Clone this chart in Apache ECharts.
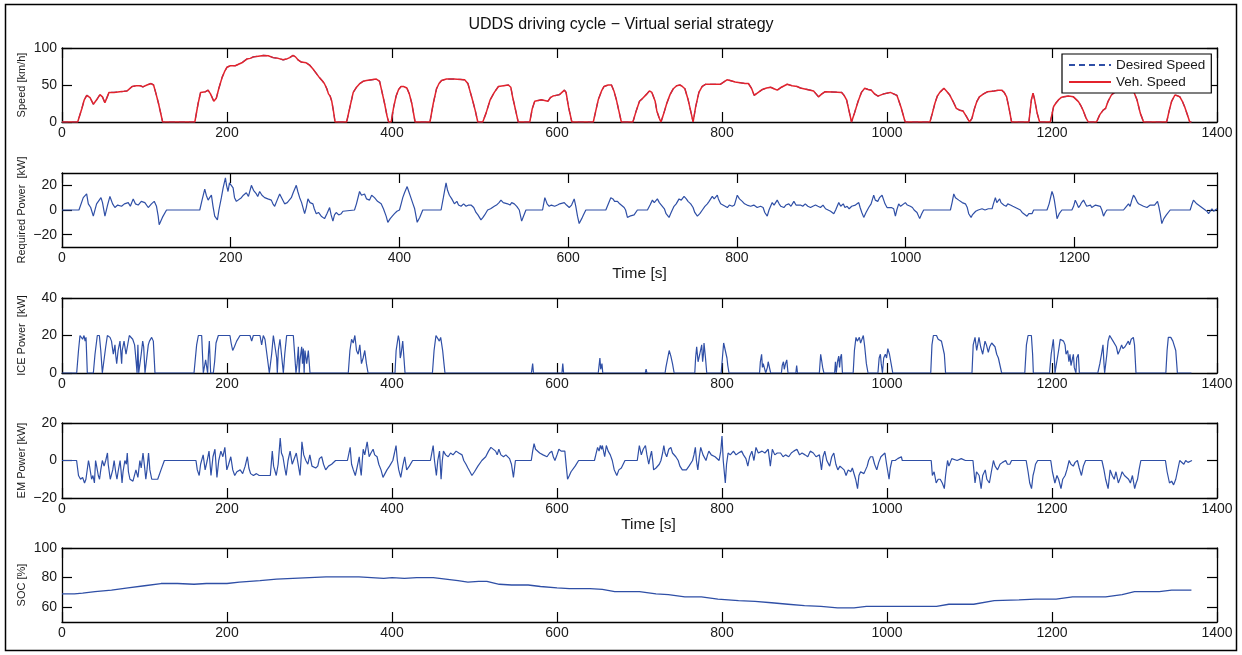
<!DOCTYPE html>
<html>
<head>
<meta charset="utf-8">
<title>UDDS driving cycle – Virtual serial strategy</title>
<script src="https://cdn.jsdelivr.net/npm/echarts@6/dist/echarts.min.js"></script>
<style>
  html, body { margin: 0; padding: 0; background: #fff; }
  #chart { width: 1242px; height: 655px; }
</style>
</head>
<body>
<div id="chart"></div>
<script>
// ---- tick values ----
const timeTicks = [0, 200, 400, 600, 800, 1000, 1200, 1400];
const timeTicksShort = [0, 200, 400, 600, 800, 1000, 1200];
const speedTicks = [0, 50, 100];
const reqPowerTicks = [-20, 0, 20];
const icePowerTicks = [0, 20, 40];
const emPowerTicks = [-20, 0, 20];
const socTicks = [60, 80, 100];

// ---- vehicle speed [km/h] over time [s] ----
const speedData = [
  [0,0],[19,0],[24,18],[27,30],[30,36],[34,33],[38,24],[42,30],[46,37],[49,34],[52,26],[57,40],[63,40],[70,41],[75,41.5],[79,42],[85,48],[90,49],[95,49],[98,47.5],[103,50],[105,48.5],[108,52],[111,50],[114,38],[117,25],[122,0],
  [161,0],[165,25],[168,40],[170,42],[174,41],[177,43],[180,38],[184,28],[187,32],[190,45],[194,60],[197,68],[200,74],[204,76],[210,76],[214,78],[218,80],[224,85],[228,86],[232,88],[238,89],[244,90],[250,89.5],[256,87],[262,86],[268,84],[272,85],[276,87],[280,90],[283,88],[286,84],[290,81],[296,80],[300,77],[304,72],[308,66],[312,60],[316,55],[318,52],[321,45],[323,38],[325,35],[327,28],[329,15],[331,0],
  [345,0],[349,20],[353,40],[357,47],[361,52],[365,55],[369,56],[375,57],[381,58],[385,55],[388,40],[391,25],[394,8],[396,0],[399,0],[402,20],[405,35],[408,44],[411,48],[414,48],[418,46],[421,38],[424,25],[428,0],
  [446,0],[450,25],[454,45],[457,52],[460,56],[466,58],[475,58],[483,57.5],[488,57],[492,52],[495,40],[498,28],[501,15],[504,0],
  [510,0],[514,12],[519,30],[524,40],[529,48],[535,49],[541,50],[544,47],[546,35],[548,25],[551,10],[553,0],
  [567,0],[570,18],[573,28],[577,29],[581,30],[585,29],[589,28],[592,33],[595,35],[599,36],[603,37],[606,40],[609,43],[611,40],[614,20],[618,0],
  [644,0],[647,15],[650,30],[654,42],[657,48],[662,50],[666,50],[669,42],[672,30],[675,15],[678,0],
  [692,0],[696,15],[700,28],[703,31],[705,33],[709,38],[712,42],[715,40],[717,38],[719,28],[721,15],[724,5],[726,0],[729,10],[733,25],[737,37],[741,45],[745,49],[749,50],[752,48],[755,45],[759,30],[762,15],[765,0],
  [768,20],[772,40],[776,48],[780,51],[790,51],[798,51],[802,54],[806,57],[810,56],[816,54],[822,53],[828,52],[832,52],[836,45],[839,36],[844,40],[849,44],[854,46],[859,47],[863,45],[867,43],[872,47],[879,51],[885,49],[891,48],[895,46],[903,44],[911,42],[914,38],[917,34],[921,38],[925,41],[935,40.5],[945,40],[948,36],[951,30],[954,15],[957,0],
  [960,10],[965,28],[969,40],[973,45.5],[977,44],[981,43],[985,38],[989,35],[996,38],[1004,40],[1008,38],[1012,36],[1017,20],[1022,0],
  [1052,0],[1055,12],[1058,25],[1061,35],[1064,40],[1069,45.5],[1072,42],[1076,36.5],[1080,28],[1084,18.5],[1088,16],[1092,15],[1096,8],[1100,0],
  [1103,5],[1106,18],[1109,28],[1112,34],[1117,38],[1122,41],[1130,42],[1135,43],[1139,43],[1142,40],[1145,34],[1148,18],[1151,0],
  [1172,0],[1175,30],[1177,39],[1179,30],[1182,12],[1185,0],
  [1198,0],[1202,21],[1205,26],[1208,30],[1211,33],[1214,34],[1220,35],[1226,34],[1232,27.5],[1235,22],[1238,15],[1241,6],[1244,0],
  [1254,0],[1258,10],[1262,16],[1265,18.5],[1268,28],[1272,36.5],[1278,42],[1285,45],[1292,46],[1298,44],[1303,30],[1307,12],[1311,0],
  [1339,0],[1342,15],[1345,28],[1349,36.5],[1352,35.5],[1355,34],[1358,28],[1361,20],[1364,10],[1367,0],[1369,0]
];

// ---- required traction power [kW] ----
const reqPowerData = [
  [0,0],[20.1,0],[25.2,10],[29.2,13],[31.2,5],[34,2],[37.1,-5],[41,5],[46.2,10],[48,6],[50.9,-5],[54,4],[56.8,11],[60,5],[62.7,2],[66,4],[70.6,3],[74,5],[78.5,6],[81,3],[84.4,9],[87,5],[90.3,4],[94,7],[98.2,6],[102.2,2],[106,5],[109.3,7],[112,3],[114,-5],[115.2,-12],[119,-6],[123.9,0],
  [163.3,0],[166,8],[169.2,17],[171,12],[173.2,8],[175,10],[177.1,12],[179,3],[181,-5],[184.2,-8],[186,0],[188.9,10],[191,18],[193.7,26],[195,20],[196.8,15],[198.5,22],[200,22],[202.8,18],[204.5,10],[206.7,7],[209,8],[212.6,10],[215,12],[218.5,14],[221,11],[224.5,20],[227,16],[230.4,13],[232,11],[234.3,15],[237,12],[240.2,10],[244,9],[248.1,8],[250,5],[252.1,3],[255,8],[258,13],[261,9],[263.9,5],[267,6],[271.8,10],[274,14],[277.7,20],[279.5,15],[281.7,10],[284,6],[287.6,-3],[289.5,2],[291.5,9],[294,6],[297.4,5],[299,1],[301.4,-3],[304,-2],[307.3,-5],[309,-4],[311.2,-7],[314,-3],[317.2,2],[319,-4],[321.1,-9],[323,-4],[325,-2],[328,-4],[331,-3],[333,-1],[334.9,0],
  [346.7,0],[349,5],[352.7,15],[355,12],[358.6,13],[361,9],[364.5,8],[367,12],[370.4,10],[374,7],[378.3,5],[381,1],[384.2,-5],[386.2,-10],[389,-7],[391.5,-5],[394.1,-3],[397,-1],[400,0],[402,5],[403.9,10],[406,14],[409.1,19],[411,15],[413.5,10],[416,5],[418,1],[421,-10],[424,-6],[427.6,0],
  [449.3,0],[452,10],[455.2,22],[457,16],[459.2,12],[462,9],[465.1,5],[468,7],[470,4],[473,3],[476,5],[479,3],[482,4],[484.8,4],[488,2],[490.7,-2],[493,-4],[496.6,-8],[499,-6],[501,-4],[504.5,0],[508,1],[512.4,3],[515,4],[518,6],[520.3,8],[523,6],[525,7],[528.2,5],[531,4],[533,6],[536.1,5],[539,3],[542,0],[544.8,-9],[547,-5],[549.9,0],
  [569.6,0],[572.3,10],[575,5],[577.5,3],[580,4],[584,3],[587.3,4],[590,5],[592,4],[595.3,6],[598,4],[601.2,2],[604,4],[607.1,9],[609,3],[611,-5],[613,-11],[616,-7],[618,-4],[620.9,0],
  [644.6,0],[647,4],[650.5,10],[653,9],[655,7],[658.4,7],[661,5],[663,6],[666.3,2],[668,0],[670.2,-6],[673,-5],[675,-6],[678.1,-4],[682,0],
  [693.9,0],[697,4],[699.8,8],[702,6],[705.7,9],[708,6],[711.6,3],[714,1],[716,-3],[719.5,-6],[722,-2],[725.4,3],[728,5],[731.4,9],[734,8],[737.3,11],[740,9],[742,7],[745.2,5],[748,2],[750,-2],[753.1,-5],[756,-3],[759,0],[762,3],[764.9,5],[767,7],[770.8,11],[773,9],[776.7,12],[778,9],[780.7,5],[783,4],[786,3],[788.6,2],[791,4],[794.5,3],[797,4],[800.4,12],[803,9],[806.3,7],[809,5],[812,4],[816.2,3],[820,4],[824,2],[828,3],[831,2],[833,-2],[835.9,-5],[838,0],[841.8,6],[844,4],[847.7,8],[850,5],[852,3],[855.6,2],[858,4],[861.5,5],[864,3],[867.5,7],[870,4],[872,5],[875.3,4],[878,3],[881,5],[884,3],[887.2,2],[890,3],[893.1,4],[896,3],[899,2],[902,4],[905,1],[908,0],[911,-1],[914.8,-3],[917,0],[920.7,6],[923,3],[926,5],[928,2],[930.6,3],[933,1],[936,3],[938,2],[940.4,4],[942,3],[944.4,6],[946,2],[948,-2],[950.3,-6],[953,-2],[956.2,2],[959,5],[962.1,12],[964,8],[966.9,7],[969,10],[972,12],[974,8],[975.5,5],[977.9,2],[980,3],[983,2],[985.8,1],[987.8,-5],[989.5,0],[991.7,5],[994,3],[996,4],[999.6,6],[1002,4],[1005.5,3],[1008,2],[1010,0],[1013.4,-2],[1016.6,-7],[1019,-3],[1021.3,0],
  [1053,0],[1055,6],[1057,13],[1059,10],[1062.9,8],[1065,9],[1067,6],[1070.8,5],[1073,2],[1074.7,-3],[1077.5,-6],[1079,-4],[1080.7,-3],[1083,-1],[1086,0],[1090.5,1],[1094,0],[1098,1],[1102.4,1],[1104,5],[1106.3,10],[1108,6],[1111.4,9],[1113,6],[1116.2,4],[1119,3],[1121,5],[1124.1,4],[1127,3],[1130,2],[1133,1],[1135.9,0],[1138,-2],[1140,-3],[1143.8,-5],[1146,-3],[1149.7,-3],[1151.7,0],
  [1167.5,0],[1170,5],[1173.4,15],[1175,12],[1176.2,8],[1178,0],[1179.4,-7],[1182,-3],[1185.2,0],
  [1197,0],[1199,3],[1201,8],[1203,5],[1204.9,2],[1207,4],[1208.5,6],[1210.8,8],[1213,5],[1214.5,3],[1216.8,3],[1219,4],[1220.5,2],[1222.7,2],[1225,4],[1227,3],[1230.6,3],[1232.5,0],[1234.5,-5],[1236.5,-2],[1238.5,0],
  [1258.2,0],[1260.5,2],[1264.1,5],[1266,3],[1268,8],[1270,12],[1272,10],[1274,7],[1276,5],[1278,6],[1281.9,3],[1284,4],[1286,2],[1289.8,4],[1292,3],[1295,4],[1297,3],[1298.5,7],[1300,3],[1301.7,-3],[1303.6,-11],[1306,-7],[1309,-4],[1313.5,0],
  [1337.2,0],[1339,4],[1341.1,8],[1343,7],[1345,5],[1347,6],[1349,3],[1351,2],[1353,1],[1354.9,0],[1357,-1],[1359,-3],[1360.9,-2],[1363,1],[1365,-1],[1366.8,0],[1369,1]
];

// ---- engine (ICE) power [kW] ----
const icePowerData = [
  [0,0],[17.8,0],[20,12],[21.8,20],[24,19],[25,18],[26.7,20],[28,17],[29.1,19],[30.7,0],[38,0],[40,10],[42.8,20],[45.3,20],[47,12],[48.9,0],[51.3,0],[53,14],[55,20],[58.2,19],[60,17],[62.2,10],[64.2,15],[65,10],[66.3,5],[68,12],[70.3,17],[72.3,5],[73,12],[75.2,17],[77.6,10],[80,16],[81.6,20],[85.7,18],[88,15],[89.7,7],[91,0],[92,15],[93,0],[96,10],[97.8,17],[99,14],[100.6,0],[102,0],[104.6,15],[106,17],[108.7,19],[110.7,17],[112.7,0],
  [160,0],[163.2,15],[165.3,20],[169.3,20],[171.3,0],[173.3,0],[174.1,7],[175.4,7],[176.5,0],[177.5,10],[178.6,17],[180.2,0],[183.4,0],[185,6],[186.7,16],[189.5,20],[203.6,20],[205,16],[206.9,12],[209,14],[211.7,17],[215.8,20],[227.9,20],[229.9,17],[231.9,20],[240,20],[242,15],[244,20],[246,18],[248,17],[251.3,0],[254.1,10],[256.2,20],[258.2,19],[260.2,8],[261,0],[262.2,12],[264.2,18],[266,10],[268.3,0],[270,10],[272.3,20],[280.4,20],[283.6,0],[285,5],[286.5,14],[287.5,0],[288.5,7],[290.5,14],[291.5,5],[292.5,13],[293.5,0],[294.5,12],[296.6,5],[298.6,12],[300.6,0],
  [347,0],[349,12],[351,18],[353,16],[355,20],[357,12],[359,10],[361,15],[363,5],[365,8],[367,12],[369,5],[371,0],
  [403.6,0],[405,12],[407.7,20],[409,17],[410,8],[411,10],[413,17],[415.8,0],
  [449,0],[451,12],[453.3,20],[455,19],[457.4,17],[459,19],[461.4,12],[463,5],[464.2,0],
  [569,0],[570.5,5],[571.5,0],[606,0],[607,5],[608,0],[650,0],[652,8],[653,2],[654.5,5],[655.5,0],[707,0],[708,2],[709,0],
  [731,0],[732,3],[734,4],[736,12],[738,9],[740,5],[742,0],
  [767,0],[768,8],[769.3,14],[771,6],[772.1,5],[773,10],[775.4,15],[776.5,6],[777.5,10],[778.2,16],[780,8],[781.5,0],
  [799,0],[800.5,8],[802,16],[804,15],[806,8],[807,4],[808.5,0],
  [845.5,0],[846.5,6],[848,10],[849,3],[850,5],[852,5],[853,0],[855,3],[856,6],[858,2],[859,0],
  [872,0],[873,4],[874.5,6],[875.5,2],[877,5],[878.5,7],[880,0],[889.5,0],[890.5,4],[891.5,0],
  [918,0],[919.6,10],[921,6],[922,3],[923.5,0],
  [936.5,0],[937.5,6],[938.5,0],[940,6],[941.5,9],[942.5,3],[943.5,8],[944.8,10],[946,0],
  [959,0],[960.5,12],[962.4,19],[964,17],[966.5,19],[968,16],[971.3,20],[973,14],[975,5],[977,0],
  [989,0],[990.5,8],[992,10],[993,5],[994.5,0],[996,8],[998,10],[999.5,8],[1001,13],[1003,10],[1005,5],[1007,0],
  [1053,0],[1054.5,15],[1056.2,20],[1060,20],[1062,18],[1064.2,19],[1066,17],[1068.3,18],[1069.5,10],[1071,0],
  [1103,0],[1104.5,15],[1106.7,19],[1108.7,12],[1111.5,19],[1113.5,14],[1116,10],[1118.8,17],[1120.5,15],[1122.8,11],[1124.5,14],[1126.9,16],[1129,15],[1130.9,14],[1133,10],[1135,8],[1137,4],[1139,0],
  [1167,0],[1169,15],[1171,20],[1173,19],[1175,20],[1176.5,10],[1177.4,0],
  [1197,0],[1199,10],[1201.6,18],[1202.5,12],[1203.6,0],[1206,0],[1208,12],[1210,18],[1211.7,19],[1214,17],[1215.8,15],[1217,10],[1219,12],[1220.5,6],[1221.8,10],[1223,4],[1223.8,5],[1225,8],[1225.9,10],[1227,3],[1227.9,2],[1229,0],[1230,8],[1231.9,10],[1233.2,0],
  [1255.5,0],[1258,5],[1260,10],[1261.8,15],[1263,5],[1263.8,0],[1265,0],[1266.5,10],[1268,17],[1269.9,20],[1272,19],[1274,17],[1276,18],[1278,14],[1280,10],[1282,12],[1284.4,15],[1286,13],[1288.5,14],[1290,13],[1292.5,17],[1294,15],[1296,18],[1298.6,19],[1300,15],[1301.8,0],
  [1338,0],[1339.5,12],[1341,19],[1344,19],[1346.5,17],[1348.5,17],[1350,12],[1352,0],[1369,0]
];

// ---- electric machine (EM) power [kW] ----
const emPowerData = [
  [0,0],[17.7,0],[20,-8],[22.5,-10],[25,-9],[27.3,-12],[29,-10],[30.5,-11],[32.1,0],[33,-2],[35.9,-10],[37.5,-8],[39.3,-12],[40.7,0],[42,-3],[44,-8],[45.5,-10],[47,-5],[48.9,0],[51,-3],[53,0],[55.1,4],[56,-2],[58.5,-10],[60,-9],[61.5,-5],[63.2,0],[65,-6],[66.6,-10],[68,-6],[70.4,0],[71.5,-5],[72.8,-12],[74,-6],[76.2,0],[78,-2],[79.1,4],[80.5,-6],[82.4,-10],[84,-10],[86,-11],[88,-10],[89.6,-5],[92,-9],[94.4,0],[96,-4],[98.2,4],[100,-3],[101.6,-10],[103,-5],[104.9,4],[106.5,-5],[108.8,-10],[112,-10],[116,-10],[120,-5],[124.1,0],
  [162.4,0],[164,-5],[166.3,-8],[168,-2],[171.1,3],[173.5,-5],[176,0],[178.2,5],[180.6,-8],[183,2],[185.4,6],[187.8,-9],[190,0],[192.6,5],[195,2],[197.4,7],[199.8,-5],[202,-2],[204.6,2],[207,-5],[209.4,-8],[212,-6],[214.2,-7],[216,-5],[219,-7],[222,-3],[224.7,2],[226.5,-4],[228.6,-7],[232,-8],[235.7,-7],[239,-8],[242.9,-8],[245,-7],[247.7,-8],[250,-7],[252.5,-8],[254.9,5],[256.5,-3],[259.7,-8],[262,-2],[264.5,12],[266,4],[267.8,2],[270,-4],[271.7,-8],[274,0],[276.5,5],[279,-2],[281.3,-3],[284,4],[286.1,5],[288.5,-8],[290,2],[290.8,10],[293,3],[295.6,0],[298,-2],[300.4,3],[303,-3],[305.2,-3],[307.5,-4],[310,-3],[312,1],[314.8,2],[317,-2],[319.6,-5],[323,-3],[326.8,-2],[329,-1],[331.6,0],
  [346,0],[349.3,7],[351,-2],[353.1,-5],[355.5,-8],[358,-3],[360.3,2],[361.5,-4],[362.7,-8],[364,0],[365.1,6],[367,3],[369.9,10],[372.3,2],[374.5,4],[377.1,6],[379,3],[381.9,2],[384,-2],[386.7,-5],[389.1,-9],[391.5,-7],[393.9,-5],[397,-3],[401,0],[403,4],[404.9,8],[406.5,0],[408.2,-5],[410.6,-9],[413,-3],[415.4,2],[417.8,-5],[421,-3],[425,0],
  [446.6,0],[449.9,8],[451.5,0],[453.8,-8],[455.5,0],[457.6,5],[459.5,-10],[461,0],[462.4,5],[465,3],[468.1,2],[471,4],[474,3],[477.7,5],[481,4],[484.9,3],[487,0],[489.7,-2],[492,-4],[494.5,-6],[496.9,-8],[500,-6],[504.1,-3],[508.9,0],[513.6,2],[517,5],[519.9,7],[522,6],[525.6,5],[527.5,3],[529.5,6],[532,3],[535.2,2],[538,3],[540,3],[542.5,1],[544.8,-2],[547.2,-9],[549.6,0],
  [568.8,0],[570.5,5],[572.2,9],[574,6],[576,5],[579,4],[583.1,3],[585.5,4],[587.9,2],[591,4],[593.7,5],[595.5,2],[597.5,0],[600,3],[602.3,6],[605,5],[607.1,4],[609.5,5],[611,-2],[612.8,-10],[615,-8],[617,-6],[619,-5],[622,-3],[626.2,0],
  [645.4,0],[647,3],[649.2,7],[651,5],[652.5,8],[654,6],[655,8],[657.8,2],[659.8,8],[662,5],[664.6,3],[667,0],[669.4,-5],[672.5,-8],[675,-5],[678,-4],[680,-3],[682.4,0],
  [697.3,0],[699.8,8],[702.2,3],[704.5,6],[707.2,8],[709,3],[711.2,-2],[713,2],[714.6,5],[716,0],[717.1,-5],[720,-4],[722,-5],[724,-2],[726,0],[728,4],[729.5,8],[731,4],[733,2],[735.5,6],[738,7],[740,4],[741.9,3],[744,2],[746.9,0],[749,-3],[751.9,-5],[754,-4],[756.8,-5],[760,-3],[764.3,0],[766,3],[767.7,7],[769,0],[770.7,-5],[772.5,2],[774.2,7],[777,3],[780.6,0],[782.5,3],[784.1,5],[787,3],[791.6,2],[794,1],[796.5,0],[798.5,5],[800,13],[801.5,0],[804,-12],[805.5,-2],[807.4,4],[810,3],[813.9,5],[817,3],[820,4],[823.8,5],[826,3],[829,1],[831.3,-3],[833.5,2],[836.2,5],[838.7,0],[841.2,7],[844,4],[848.6,5],[852,4],[856,6],[858.6,-3],[861,6],[864,3],[867,4],[871,4],[874,2],[877,3],[880.9,2],[884,4],[887,5],[890.8,6],[894,3],[897,4],[900.7,3],[904,2],[907,5],[910.7,4],[914,2],[918.1,3],[920.6,-5],[922.5,2],[924.6,5],[927,0],[930.5,-3],[933,2],[935.5,4],[938,-2],[940.4,-5],[943,-3],[945.4,-2],[948,-5],[950.4,-8],[953,-5],[956,-6],[958,-4],[960.3,-5],[962,-10],[964.3,-15],[966,-8],[968,-6],[970.2,-5],[972,-7],[974.2,-8],[976,-3],[977.7,0],[980,2],[982.6,2],[985,-2],[987.6,-5],[990,-1],[992.6,2],[995,3],[997.5,4],[999.5,-2],[1002.5,-10],[1004,-4],[1006,0],[1009.9,0],[1013,1],[1017.4,2],[1018.5,0],
  [1053.6,0],[1055,-8],[1057.1,-6],[1059.6,-12],[1062,-10],[1064.5,-10],[1067,-12],[1069.5,-15],[1071,-8],[1073.4,0],[1075,-3],[1076.9,-2],[1078.5,1],[1080.4,0],[1085,0],[1090,1],[1095,0],[1104.2,0],[1106.7,-12],[1108.5,-6],[1111.7,-8],[1114.1,-15],[1116,-8],[1119.1,-5],[1121,-10],[1124.1,-12],[1126.5,-6],[1129,0],[1131,-3],[1134,-5],[1137,-2],[1140,-1],[1143.9,0],[1146,-2],[1148.9,-2],[1151,0],
  [1168.7,0],[1171,-6],[1173,-12],[1175.2,-15],[1177,-8],[1178.7,-5],[1180,-2],[1182.6,0],
  [1198.5,0],[1200.5,-6],[1203.5,-12],[1206,-8],[1208,-10],[1210.9,-15],[1213,-10],[1215.9,-8],[1218,-5],[1220.8,0],[1223,-2],[1225.8,-3],[1228,-1],[1230.8,0],[1233,-4],[1235.7,-8],[1238,-3],[1240.7,0],
  [1260.5,0],[1263,-5],[1265,-10],[1268,-15],[1270.5,-5],[1273,-8],[1275.4,-10],[1277.5,-6],[1280.4,-12],[1283,-9],[1285,-6],[1287.8,-8],[1290,-9],[1292.8,-10],[1295,-12],[1297.5,-8],[1300.2,-15],[1302,-12],[1303.7,-10],[1305.5,-5],[1307.7,0],
  [1337.5,0],[1339.5,-6],[1342.4,-12],[1345,-11],[1347.4,-13],[1350,-10],[1352.4,-10],[1354.8,0],[1357,-1],[1359.8,-2],[1362,0],[1364.8,-1],[1366.5,0],[1369.7,0]
];

// ---- battery state of charge [%] ----
const socData = [
  [0,69],[15,69],[25,69.5],[40,70.5],[60,71.5],[80,73],[100,74.5],[120,76],[140,76],[160,75.5],[175,76],[200,76],[215,77],[240,78],[260,79],[280,79.5],[300,80],[320,80.5],[340,80.5],[360,80.5],[375,80],[390,79.5],[400,80],[415,79.5],[430,80],[450,80],[465,79],[480,78],[492,77],[505,77.5],[515,77.5],[530,75.5],[545,75],[565,75],[580,74],[600,73],[615,72.5],[640,72.5],[655,72],[670,70.5],[700,70.5],[720,69],[735,68.5],[755,67],[775,67],[795,65.5],[820,64.5],[840,64],[860,63],[880,62],[900,61],[920,60.5],[940,59.5],[960,59.5],[975,60.5],[1000,60.5],[1020,60.5],[1045,60.5],[1060,60.5],[1075,62],[1090,62],[1105,62],[1130,64.5],[1160,65],[1180,65.5],[1205,65.5],[1225,67],[1245,67],[1265,67],[1285,68.5],[1300,70.5],[1330,70.5],[1345,71.5],[1369,71.5]
];

// ---- styling ----
const FONT = '"Liberation Sans", Arial, Helvetica, sans-serif';
const AXIS_COLOR = '#000';
const TEXT_COLOR = '#1a1a1a';
const BLUE = '#2f4fa6';
const RED = '#e3232c';
const plainNumber = v => String(v).replace('-', '\u2212');

// one subplot per entry: box placement, axis ranges, tick values and labels
const panels = [
  { top: 48,  height: 74, xMax: 1400, xTicks: timeTicks,      yMin: 0,   yMax: 100, yTicks: speedTicks,    yName: 'Speed [km/h]' },
  { top: 173, height: 74, xMax: 1369, xTicks: timeTicksShort, yMin: -30, yMax: 30,  yTicks: reqPowerTicks, yName: 'Required Power  [kW]', xName: 'Time [s]', xNameShift: 0 },
  { top: 298, height: 75, xMax: 1400, xTicks: timeTicks,      yMin: 0,   yMax: 40,  yTicks: icePowerTicks, yName: 'ICE Power  [kW]' },
  { top: 423, height: 75, xMax: 1400, xTicks: timeTicks,      yMin: -20, yMax: 20,  yTicks: emPowerTicks,  yName: 'EM Power [kW]', xName: 'Time [s]', xNameShift: 18 },
  { top: 548, height: 74, xMax: 1400, xTicks: timeTicks,      yMin: 50,  yMax: 100, yTicks: socTicks,      yName: 'SOC [%]' }
];

const grids = [], xAxes = [], yAxes = [];
const tickStyle = { color: AXIS_COLOR, width: 1.2 };
const lineStyle = { color: AXIS_COLOR, width: 1.3 };

panels.forEach((p, i) => {
  grids.push({ left: 62, width: 1155, top: p.top, height: p.height, outerBoundsMode: 'none', containLabel: false });
  // bottom axis with labels
  xAxes.push({
    type: 'value', gridIndex: i, position: 'bottom', min: 0, max: p.xMax,
    axisLine: { show: true, onZero: false, lineStyle },
    axisTick: { show: true, inside: true, length: 10, customValues: p.xTicks, lineStyle: tickStyle },
    axisLabel: { show: true, customValues: p.xTicks, margin: 4, color: TEXT_COLOR, fontSize: 14, fontFamily: FONT, formatter: plainNumber },
    splitLine: { show: false },
    name: p.xName || '', nameLocation: 'middle', nameGap: 19, nameMoveOverlap: false,
    nameTextStyle: { fontSize: 15.5, fontFamily: FONT, color: TEXT_COLOR, padding: [0, 0, 0, p.xNameShift || 0] }
  });
  // mirrored top axis (ticks only)
  xAxes.push({
    type: 'value', gridIndex: i, position: 'top', min: 0, max: p.xMax,
    axisLine: { show: true, onZero: false, lineStyle },
    axisTick: { show: true, inside: true, length: 10, customValues: p.xTicks, lineStyle: tickStyle },
    axisLabel: { show: false },
    splitLine: { show: false }
  });
  // left axis with labels and name
  yAxes.push({
    type: 'value', gridIndex: i, position: 'left', min: p.yMin, max: p.yMax,
    axisLine: { show: true, onZero: false, lineStyle },
    axisTick: { show: true, inside: true, length: 10, customValues: p.yTicks, lineStyle: tickStyle },
    axisLabel: { show: true, customValues: p.yTicks, margin: 5, color: TEXT_COLOR, fontSize: 14, fontFamily: FONT, formatter: plainNumber },
    splitLine: { show: false },
    name: p.yName, nameLocation: 'middle', nameRotate: 90, nameGap: 35, nameMoveOverlap: false,
    nameTextStyle: { fontSize: 11, fontFamily: FONT, color: TEXT_COLOR }
  });
  // mirrored right axis (ticks only)
  yAxes.push({
    type: 'value', gridIndex: i, position: 'right', min: p.yMin, max: p.yMax,
    axisLine: { show: true, onZero: false, lineStyle },
    axisTick: { show: true, inside: true, length: 10, customValues: p.yTicks, lineStyle: tickStyle },
    axisLabel: { show: false },
    splitLine: { show: false }
  });
});

function lineSeries(name, panelIndex, data, color, width, type) {
  return {
    name, type: 'line', data,
    xAxisIndex: panelIndex * 2, yAxisIndex: panelIndex * 2,
    symbol: 'none', showSymbol: false, silent: true, animation: false, clip: true,
    lineStyle: { color, width, type: type || 'solid' },
    itemStyle: { color }
  };
}

const option = {
  backgroundColor: '#fff',
  animation: false,
  title: {
    text: 'UDDS driving cycle \u2212 Virtual serial strategy',
    left: 'center', top: 12,
    textStyle: { fontSize: 16, fontWeight: 'normal', color: '#111', fontFamily: FONT }
  },
  legend: {
    orient: 'vertical', left: 1062, top: 54,
    data: ['Desired Speed', 'Veh. Speed'],
    backgroundColor: '#fff', borderColor: '#000', borderWidth: 1.2, borderRadius: 0,
    padding: [4, 6, 4, 6], itemGap: 3, itemWidth: 42, itemHeight: 14,
    itemStyle: { opacity: 0 },
    textStyle: { fontSize: 13.5, fontFamily: FONT, color: TEXT_COLOR },
    selectedMode: false, z: 10
  },
  grid: grids,
  xAxis: xAxes,
  yAxis: yAxes,
  series: [
    lineSeries('Desired Speed', 0, speedData, BLUE, 1.2, [6, 4]),
    lineSeries('Veh. Speed', 0, speedData, RED, 1.5),
    lineSeries('Required Power', 1, reqPowerData, BLUE, 1.2),
    lineSeries('ICE Power', 2, icePowerData, BLUE, 1.2),
    lineSeries('EM Power', 3, emPowerData, BLUE, 1.2),
    lineSeries('SOC', 4, socData, BLUE, 1.3)
  ],
  graphic: [{
    type: 'rect', silent: true, z: 100,
    shape: { x: 5.5, y: 4.5, width: 1231, height: 646 },
    style: { fill: 'none', stroke: '#000', lineWidth: 1.5 }
  }]
};

const chart = echarts.init(document.getElementById('chart'), null, { renderer: 'canvas', width: 1242, height: 655 });
chart.setOption(option);
</script>
</body>
</html>
